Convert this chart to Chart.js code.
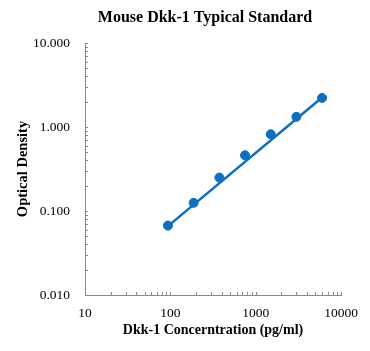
<!DOCTYPE html>
<html><head><meta charset="utf-8">
<script src="https://cdn.jsdelivr.net/npm/chart.js@4"></script>
<style>html,body{margin:0;padding:0;background:#fff}#w{width:370px;height:351px}</style>
</head><body><div id="w"><canvas id="c"></canvas></div>
<script>
const concentrations = [93.75, 187.5, 375, 750, 1500, 3000, 6000];
const opticalDensity = [0.067, 0.125, 0.25, 0.46, 0.82, 1.32, 2.22];
const trendX = [93.75, 6000];
const trendY = [0.066, 2.25];
const xTicks = [10, 100, 1000, 10000];
const yTicks = [0.01, 0.1, 1, 10];
const BLUE = '#0E6FC1';
const AXIS = '#898989';
const SERIF = '"Liberation Serif", "Times New Roman", serif';

const minorTicks = {
  id: 'minorTicks',
  afterDraw(chart) {
    const ctx = chart.ctx, x = chart.scales.x, y = chart.scales.y, a = chart.chartArea;
    ctx.save();
    ctx.strokeStyle = AXIS; ctx.lineWidth = 1;
    for (let d = 10; d < 10000; d *= 10) for (let k = 1; k <= 10; k++) {
      const px = Math.round(x.getPixelForValue(d * k)) + 0.5;
      if (k === 1 && d === 10) continue;
      ctx.beginPath(); ctx.moveTo(px, a.bottom); ctx.lineTo(px, a.bottom - 3); ctx.stroke();
    }
    for (let d = 0.01; d < 9; d *= 10) for (let k = 1; k <= 10; k++) {
      const py = Math.round(y.getPixelForValue(d * k)) + 0.5;
      if (k === 1 && d < 0.02) continue;
      ctx.beginPath(); ctx.moveTo(a.left, py); ctx.lineTo(a.left + 3, py); ctx.stroke();
    }
    ctx.restore();
  }
};

new Chart(document.getElementById('c'), {
  type: 'scatter',
  data: {
    datasets: [
      { data: concentrations.map((v, i) => ({x: v, y: opticalDensity[i]})),
        backgroundColor: BLUE, borderColor: BLUE, pointRadius: 4.5, pointHoverRadius: 4.5 },
      { data: trendX.map((v, i) => ({x: v, y: trendY[i]})), showLine: true,
        borderColor: BLUE, borderWidth: 2.5, pointRadius: 0 }
    ]
  },
  options: {
    responsive: true, maintainAspectRatio: false, animation: false,
    layout: { padding: { top: 43, right: 29, left: 0, bottom: 0 } },
    plugins: { legend: { display: false }, tooltip: { enabled: false }, title: { display: false } },
    scales: {
      x: {
        type: 'logarithmic', min: 10, max: 10000,
        afterBuildTicks: s => { s.ticks = xTicks.map(v => ({value: v})); },
        afterFit: s => { s.height = 56; },
        ticks: { callback: v => String(v), color: '#000', font: { family: SERIF, size: 13.5 }, padding: 10, maxRotation: 0 },
        grid: { drawOnChartArea: false, drawTicks: false },
        border: { color: AXIS },
        title: { display: true, text: 'Dkk-1 Concerntration (pg/ml)', color: '#000', font: { family: SERIF, size: 14, weight: 'bold' }, padding: { top: 0, bottom: 12 } }
      },
      y: {
        type: 'logarithmic', min: 0.01, max: 10,
        afterBuildTicks: s => { s.ticks = yTicks.map(v => ({value: v})); },
        afterFit: s => { s.width = 85; },
        ticks: { callback: v => v.toFixed(3), color: '#000', font: { family: SERIF, size: 13.5 }, padding: 15 },
        grid: { drawOnChartArea: false, drawTicks: false },
        border: { color: AXIS },
        title: { display: true, text: 'Optical Density', color: '#000', font: { family: SERIF, size: 14.5, weight: 'bold' }, padding: { top: 15, bottom: 0 } }
      }
    }
  },
  plugins: [minorTicks, {
    id: 'topTitle',
    afterDraw(chart) {
      const ctx = chart.ctx;
      ctx.save();
      ctx.font = 'bold 16px ' + SERIF; ctx.fillStyle = '#000';
      ctx.textAlign = 'center'; ctx.textBaseline = 'middle';
      ctx.fillText('Mouse Dkk-1 Typical Standard', 205, 18);
      ctx.restore();
    }
  }]
});
</script></body></html>
